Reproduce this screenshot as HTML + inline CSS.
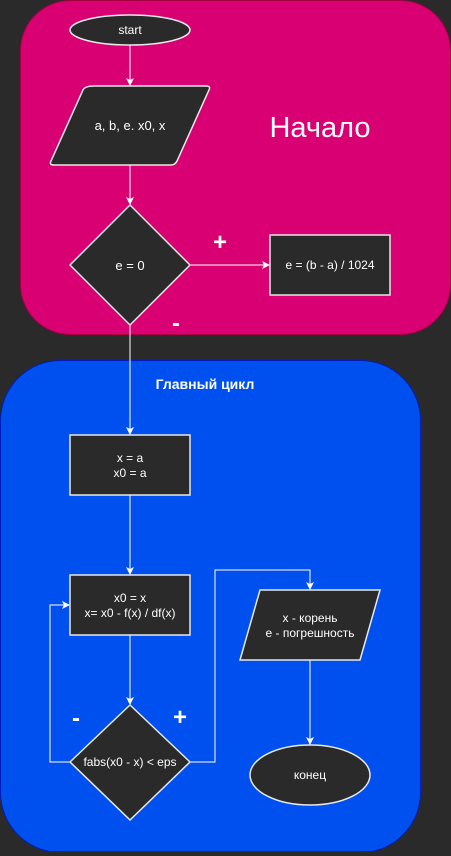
<!DOCTYPE html>
<html><head><meta charset="utf-8"><style>body{margin:0;background:#2a2a2a}</style></head><body>
<svg width="451" height="851" viewBox="0 0 451 851" xmlns="http://www.w3.org/2000/svg" font-family="Liberation Sans, sans-serif">
<defs><marker id="a" markerWidth="8" markerHeight="8" refX="7" refY="4" orient="auto" markerUnits="userSpaceOnUse"><path d="M0,0 L8,4 L0,8 L2,4 Z" fill="#fff"/></marker></defs>
<rect x="0" y="0" width="451" height="851" fill="#2a2a2a"/>
<rect x="20.5" y="0.5" width="430" height="334" rx="50" fill="#d80073" stroke="#a50040"/>
<rect x="0.5" y="360.5" width="420" height="492" rx="60" fill="#0050ef" stroke="#001dbc"/>
<g stroke="#fff" stroke-width="1" fill="none">
<line x1="130" y1="45" x2="130" y2="85" marker-end="url(#a)"/>
<line x1="130" y1="165" x2="130" y2="204" marker-end="url(#a)"/>
<line x1="190" y1="265" x2="269" y2="265" marker-end="url(#a)"/>
<line x1="130" y1="325" x2="130" y2="434" marker-end="url(#a)"/>
<line x1="130" y1="495" x2="130" y2="574" marker-end="url(#a)"/>
<line x1="130" y1="635" x2="130" y2="704" marker-end="url(#a)"/>
<polyline points="70,762 50,762 50,605 69,605" marker-end="url(#a)"/>
<polyline points="190,762 215,762 215,570 310,570 310,589" marker-end="url(#a)"/>
<line x1="310" y1="660" x2="310" y2="744" marker-end="url(#a)"/>
</g>
<g fill="#2a2a2a" stroke="#e8e8e8" stroke-width="1.5">
<ellipse cx="130" cy="30" rx="60" ry="15"/>
<path d="M94,86 L206,86 Q211,86 209,90 L177,161 Q175,165 171,165 L54,165 Q49,165 51,161 L83,90 Q85,86 94,86 Z"/>
<path d="M130,205 L190,265 L130,325 L70,265 Z"/>
<rect x="270" y="235" width="120" height="60"/>
<rect x="70" y="435" width="120" height="60"/>
<rect x="70" y="575" width="120" height="60"/>
<path d="M130,705 L190,762 L130,820 L70,762 Z"/>
<path d="M260,590 L380,590 L360,660 L240,660 Z"/>
<ellipse cx="310" cy="775" rx="60" ry="30"/>
</g>
<g fill="#fff" font-size="12" text-anchor="middle">
<text x="130" y="34">start</text>
<text x="130" y="130" font-size="13">a, b, e. x0, x</text>
<text x="130" y="270" font-size="13">e = 0</text>
<text x="330" y="269">e = (b - a) / 1024</text>
<text x="130" y="462">x = a</text>
<text x="130" y="477">x0 = a</text>
<text x="130" y="602">x0 = x</text>
<text x="130" y="617">x= x0 - f(x) / df(x)</text>
<text x="130" y="766">fabs(x0 - x) &lt; eps</text>
<text x="310" y="622">x - корень</text>
<text x="310" y="637">e - погрешность</text>
<text x="310" y="779">конец</text>
<text x="320" y="137" font-size="29">Начало</text>
<text x="205" y="389" font-size="14" font-weight="bold">Главный цикл</text>
<text x="220" y="250" font-size="24" font-weight="bold">+</text>
<text x="176" y="331" font-size="24" font-weight="bold">-</text>
<text x="76" y="726" font-size="24" font-weight="bold">-</text>
<text x="180" y="725" font-size="24" font-weight="bold">+</text>
</g>
</svg>
</body></html>
